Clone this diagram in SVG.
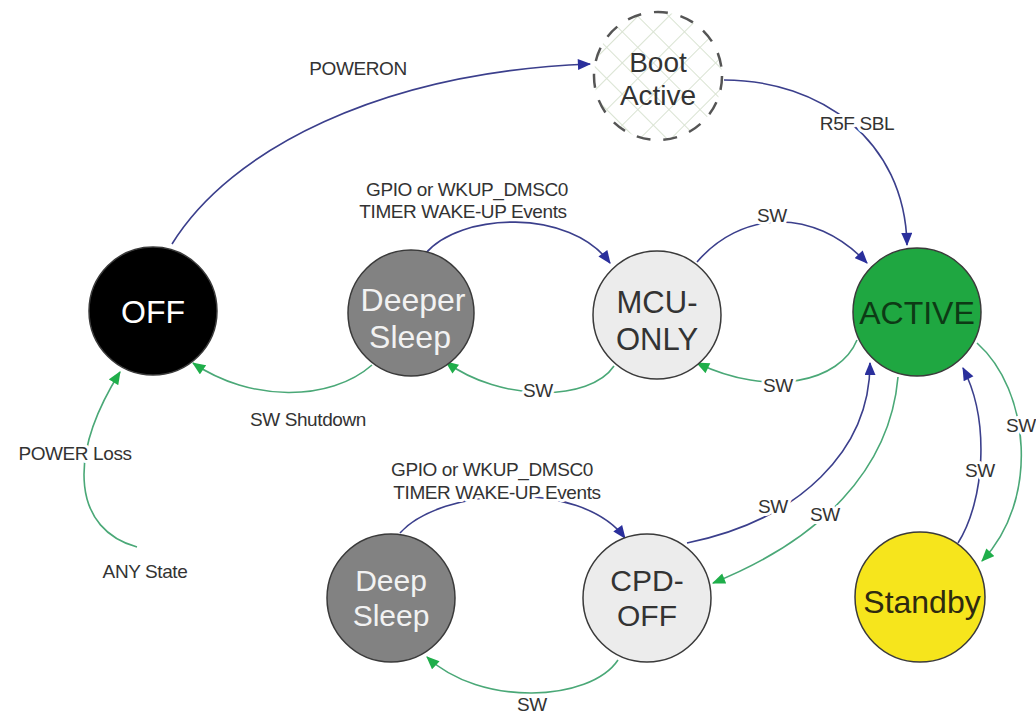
<svg xmlns="http://www.w3.org/2000/svg" width="1036" height="713" viewBox="0 0 1036 713">
  <style>
    .node { stroke: #3a3a3a; stroke-width: 1.5; }
    .nlabel { font-family: "Liberation Sans", Arial, sans-serif; font-size: 32px; text-anchor: middle; }
    .tight { font-size: 30px; }
    .elabel { font-family: "Liberation Sans", Arial, sans-serif; font-size: 19px; fill: #333; text-anchor: middle; letter-spacing: -0.4px; paint-order: stroke; stroke: #fff; stroke-width: 6px; stroke-linejoin: round; }
    .blue { fill: none; stroke: #3b3f8c; stroke-width: 1.6; marker-end: url(#arrowBlue); }
    .green { fill: none; stroke: #4aa877; stroke-width: 1.6; marker-end: url(#arrowGreen); }
  </style>
  <defs>
    <marker id="arrowBlue" viewBox="0 0 12 10" refX="11" refY="5" markerWidth="14" markerHeight="11" markerUnits="userSpaceOnUse" orient="auto">
      <path d="M0,0 L12,5 L0,10 Z" fill="#2a2f9c"/>
    </marker>
    <marker id="arrowGreen" viewBox="0 0 12 10" refX="11" refY="5" markerWidth="14" markerHeight="11" markerUnits="userSpaceOnUse" orient="auto">
      <path d="M0,0 L12,5 L0,10 Z" fill="#1fae4a"/>
    </marker>
    <pattern id="hatch" width="22" height="22" patternUnits="userSpaceOnUse" patternTransform="rotate(45)">
      <rect width="22" height="22" fill="#ffffff"/>
      <line x1="0" y1="0" x2="0" y2="22" stroke="#d9e3d2" stroke-width="2"/>
      <line x1="0" y1="0" x2="22" y2="0" stroke="#d9e3d2" stroke-width="2"/>
    </pattern>
  </defs>

  <rect width="1036" height="713" fill="#ffffff"/>

  <!-- transitions -->
  <g id="connectors">
    <path class="blue" d="M172,244 C 230,150 380,72 590,64"/>
    <path class="blue" d="M724,80 C 820,80 905,140 907,245"/>
    <path class="blue" d="M697,262 C 740,212 812,205 867,263"/>
    <path class="green" d="M857,340 C 840,382 770,398 697,363"/>
    <path class="green" d="M614,366 C 590,402 500,402 446,362"/>
    <path class="green" d="M372,365 C 330,402 250,402 193,363"/>
    <path class="green" d="M137,547 C 75,530 65,460 120,372"/>
    <path class="blue" d="M425,254 C 460,212 570,208 610,263"/>
    <path class="blue" d="M400,533 C 440,488 580,478 625,538"/>
    <path class="blue" d="M687,543 C 800,520 870,450 870,363"/>
    <path class="green" d="M898,377 C 890,470 820,540 713,583"/>
    <path class="blue" d="M958,543 C 985,500 990,420 963,368"/>
    <path class="green" d="M977,343 C 1030,390 1040,500 982,561"/>
    <path class="green" d="M618,660 C 590,702 480,707 427,657"/>

    <text class="elabel" x="358" y="75">POWERON</text>
    <text class="elabel" x="857" y="130">R5F SBL</text>
    <text class="elabel" x="467" y="196">GPIO or WKUP_DMSC0</text>
    <text class="elabel" x="463" y="218">TIMER WAKE-UP Events</text>
    <text class="elabel" x="772" y="222">SW</text>
    <text class="elabel" x="778" y="392">SW</text>
    <text class="elabel" x="538" y="397">SW</text>
    <text class="elabel" x="308" y="426">SW Shutdown</text>
    <text class="elabel" x="75" y="460">POWER Loss</text>
    <text class="elabel" x="145" y="578">ANY State</text>
    <text class="elabel" x="492" y="476">GPIO or WKUP_DMSC0</text>
    <text class="elabel" x="497" y="499">TIMER WAKE-UP Events</text>
    <text class="elabel" x="773" y="513">SW</text>
    <text class="elabel" x="825" y="521">SW</text>
    <text class="elabel" x="980" y="477">SW</text>
    <text class="elabel" x="1021" y="432">SW</text>
    <text class="elabel" x="532" y="711">SW</text>
  </g>

  <!-- states -->
  <g id="node-boot">
    <circle cx="658" cy="76" r="64" fill="url(#hatch)" stroke="#555" stroke-width="2.5" stroke-dasharray="14 13"/>
    <text class="nlabel" x="658" y="72" fill="#333" style="font-size:28px">Boot</text>
    <text class="nlabel" x="658" y="105" fill="#333" style="font-size:28px">Active</text>
  </g>

  <g id="node-off">
    <circle class="node" cx="153" cy="311" r="64" fill="#000"/>
    <text class="nlabel" x="153" y="323" fill="#fff">OFF</text>
  </g>

  <g id="node-deeper-sleep">
    <circle class="node" cx="411" cy="313" r="63" fill="#828282"/>
    <text class="nlabel" x="413" y="311" fill="#f2f2f2">Deeper</text>
    <text class="nlabel" x="410" y="348" fill="#f2f2f2">Sleep</text>
  </g>

  <g id="node-mcu-only">
    <circle class="node" cx="657" cy="315" r="64" fill="#ececec" stroke="#555"/>
    <text class="nlabel" x="657" y="313" fill="#333" style="font-size:31px">MCU-</text>
    <text class="nlabel" x="657" y="350" fill="#333" style="font-size:31px">ONLY</text>
  </g>

  <g id="node-active">
    <circle class="node" cx="917" cy="312" r="64" fill="#1fa741" stroke="#1f4a24"/>
    <text class="nlabel" x="917" y="324" fill="#0d3a15">ACTIVE</text>
  </g>

  <g id="node-deep-sleep">
    <circle class="node" cx="391" cy="598" r="64" fill="#828282"/>
    <text class="nlabel tight" x="391" y="591" fill="#f2f2f2">Deep</text>
    <text class="nlabel tight" x="391" y="626" fill="#f2f2f2">Sleep</text>
  </g>

  <g id="node-cpd-off">
    <circle class="node" cx="647" cy="598" r="64" fill="#ececec" stroke="#555"/>
    <text class="nlabel tight" x="647" y="591" fill="#333">CPD-</text>
    <text class="nlabel tight" x="647" y="626" fill="#333">OFF</text>
  </g>

  <g id="node-standby">
    <circle class="node" cx="920" cy="597" r="65" fill="#f6e51c" stroke="#5a5020"/>
    <text class="nlabel" x="922" y="613" fill="#2e2a10">Standby</text>
  </g>
</svg>
